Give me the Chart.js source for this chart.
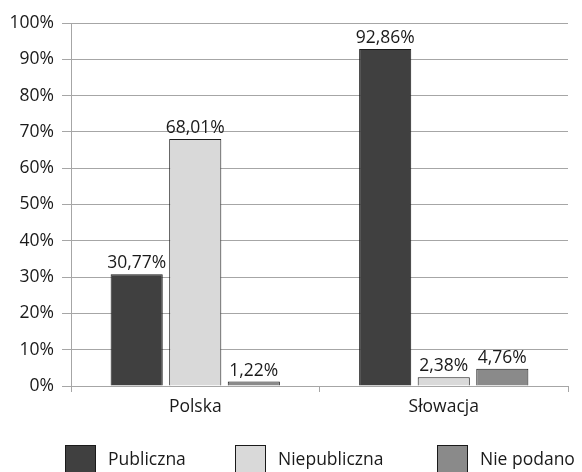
<!DOCTYPE html>
<html>
<head>
<meta charset="utf-8">
<script src="https://cdn.jsdelivr.net/npm/chart.js@4.4.0/dist/chart.umd.min.js"></script>
<style>
html,body{margin:0;padding:0;background:#fff;}
#wrap{width:582px;height:472px;position:relative;}
</style>
</head>
<body>
<div id="wrap"><canvas id="c" width="582" height="472"></canvas></div>
<script>
const categories = ["Polska", "Słowacja"];
const seriesNames = ["Publiczna", "Niepubliczna", "Nie podano"];
const publiczna = [30.77, 92.86];
const niepubliczna = [68.01, 2.38];
const niePodano = [1.22, 4.76];
const yTicks = [0, 10, 20, 30, 40, 50, 60, 70, 80, 90, 100];

const FONT = "'Open Sans'";
const FS = 17.5;
const TEXT = "#1a1a1a";
const GRID = "#a6a6a6";

const valueLabels = {
  id: "valueLabels",
  afterDatasetsDraw(chart) {
    const ctx = chart.ctx;
    ctx.save();
    ctx.font = FS + "px " + FONT;
    ctx.fillStyle = TEXT;
    ctx.textAlign = "center";
    ctx.textBaseline = "alphabetic";
    chart.data.datasets.forEach((ds, i) => {
      const meta = chart.getDatasetMeta(i);
      meta.data.forEach((bar, j) => {
        const v = ds.data[j];
        const txt = v.toFixed(2).replace(".", ",") + "%";
        ctx.fillText(txt, bar.x, bar.y - 6);
      });
    });
    ctx.restore();
  }
};

const customLegend = {
  id: "customLegend",
  afterDraw(chart) {
    const ctx = chart.ctx;
    const xs = [65, 235, 437];
    ctx.save();
    ctx.font = FS + "px " + FONT;
    ctx.textBaseline = "middle";
    ctx.textAlign = "left";
    chart.data.datasets.forEach((ds, i) => {
      const x = xs[i];
      ctx.fillStyle = ds.backgroundColor;
      ctx.fillRect(x, 445, 31, 30);
      ctx.strokeStyle = "#1a1a1a";
      ctx.lineWidth = 1;
      ctx.strokeRect(x + 0.5, 445.5, 30, 30);
      ctx.fillStyle = TEXT;
      ctx.fillText(ds.label, x + 43, 460);
    });
    ctx.restore();
  }
};

new Chart(document.getElementById("c"), {
  type: "bar",
  data: {
    labels: categories,
    datasets: [
      { label: seriesNames[0], data: publiczna, backgroundColor: "#404040", borderColor: "#1a1a1a", borderWidth: 1 },
      { label: seriesNames[1], data: niepubliczna, backgroundColor: "#d9d9d9", borderColor: "#1a1a1a", borderWidth: 1 },
      { label: seriesNames[2], data: niePodano, backgroundColor: "#8a8a8a", borderColor: "#1a1a1a", borderWidth: 1 }
    ]
  },
  options: {
    responsive: false,
    animation: false,
    devicePixelRatio: 1,
    categoryPercentage: 0.707,
    barPercentage: 0.89,
    layout: { padding: { top: 23, right: 14, left: 0, bottom: 51 } },
    plugins: { legend: { display: false }, tooltip: { enabled: false } },
    scales: {
      x: {
        grid: { drawOnChartArea: false, drawTicks: true, tickLength: 6, color: GRID, offset: true },
        border: { color: GRID, width: 1 },
        ticks: { color: TEXT, font: { family: FONT, size: FS }, padding: 5 },
        afterFit(s) { s.height = 35; }
      },
      y: {
        min: 0, max: 100,
        afterBuildTicks(s) { s.ticks = yTicks.map(v => ({ value: v })); },
        grid: { color: GRID, tickLength: 9, lineWidth: 1 },
        border: { color: GRID, width: 1 },
        ticks: { color: TEXT, font: { family: FONT, size: FS }, padding: 8, callback: v => v + "%" },
        afterFit(s) { s.width = 71; }
      }
    }
  },
  plugins: [valueLabels, customLegend]
});
</script>
</body>
</html>
